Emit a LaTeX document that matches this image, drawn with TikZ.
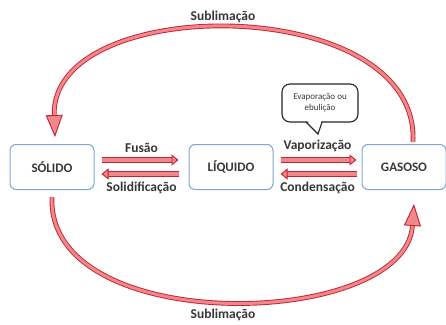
\documentclass[tikz,border=0pt]{standalone}
\usepackage{fontspec}
\setmainfont{Carlito}
\usetikzlibrary{arrows.meta,positioning}
\definecolor{boxBlue}{RGB}{125,165,215}
\definecolor{arrowRed}{RGB}{195,35,45}
\definecolor{arrowPink}{RGB}{240,135,140}
\definecolor{txtGray}{RGB}{55,55,55}

\begin{document}
\begin{tikzpicture}[x=1pt,y=-1pt,every node/.style={text=txtGray,font=\bfseries\fontsize{13.5}{15}\selectfont},
  state/.style={draw=boxBlue,line width=1pt,rounded corners=6pt,minimum width=84pt,minimum height=45pt,font=\bfseries\fontsize{13}{15}\selectfont},
  flow/.style={draw=arrowRed,line width=0.9pt,double=arrowPink,double distance=3.5pt,-{Triangle[length=7pt,width=11pt,fill=arrowPink]}},
  subl/.style={draw=arrowRed,line width=0.9pt,double=arrowPink,double distance=3pt,-{Triangle[length=22pt,width=17pt,fill=arrowPink]}}]
  \useasboundingbox (0,0) rectangle (446,324);
  % states
  \node[state] (sol) at (52,167){SÓLIDO};
  \node[state] (liq) at (231,167){LÍQUIDO};
  \node[state] (gas) at (404,167){GASOSO};
  % solid <-> liquid
  \draw[flow,shorten <=7pt,shorten >=10pt]([yshift=7pt]sol.east)--([yshift=7pt]liq.west)
    node[midway,above=4pt](fus){Fusão};
  \draw[flow,shorten <=10pt,shorten >=7pt]([yshift=-7pt]liq.west)--([yshift=-7pt]sol.east)
    node[midway,below=4pt](sold){Solidificação};
  % liquid <-> gas
  \draw[flow,shorten <=7pt,shorten >=5pt]([yshift=7pt]liq.east)--([yshift=7pt]gas.west)
    node[midway,above=4pt](vap){Vaporização};
  \draw[flow,shorten <=5pt,shorten >=7pt]([yshift=-7pt]gas.west)--([yshift=-7pt]liq.east)
    node[midway,below=4pt](cond){Condensação};
  % speech bubble
  \node[draw=black!85,line width=1.1pt,rounded corners=8pt,fill=white,minimum width=76pt,minimum height=38pt,
    align=center,font=\fontsize{9}{11}\selectfont](bub) at (320,103){Evaporação ou\\ebulição};
  \fill[white](306.5,120)--(318,134)--(321.5,120)--cycle;
  \draw[black!85,line width=1.1pt](306,122)--(318,134)--(322,122);
  % sublimation arcs
  \coordinate (gasTop) at (413,142);
  \coordinate (solTop) at (55,137);
  \coordinate (solBot) at (52,197);
  \coordinate (gasBot) at (414,204);
  \draw[subl](gasTop) .. controls (420,-8) and (50,-8) .. (solTop);
  \draw[subl](solBot) .. controls (46,338) and (405,330) .. (gasBot);
  \node (subT) at (223,17){Sublimação};
  \node (subB) at (223,315){Sublimação};
\end{tikzpicture}
\end{document}
